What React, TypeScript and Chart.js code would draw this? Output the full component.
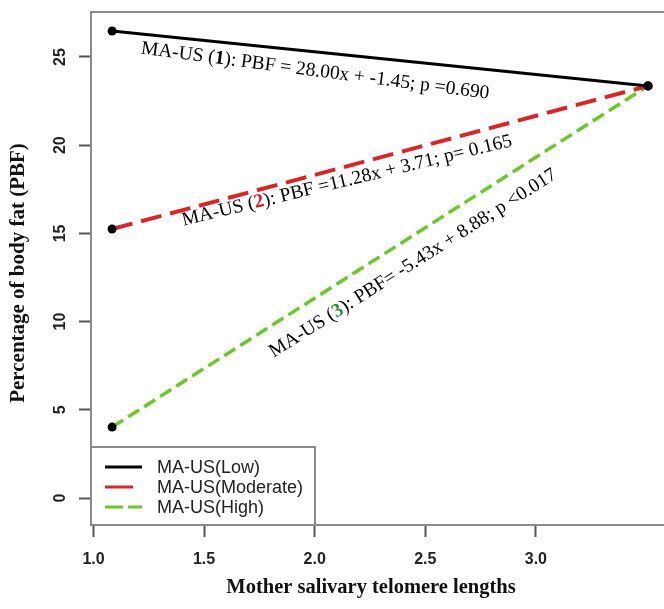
import React, { useEffect, useRef } from "react";
import { Chart, registerables } from "chart.js";
Chart.register(...registerables);

// ---------- data ----------
const seriesLabels = ["MA-US(Low)", "MA-US(Moderate)", "MA-US(High)"];
const xValues = [1.084, 3.507];
const lowValues = [26.47, 23.36];
const moderateValues = [15.25, 23.36];
const highValues = [4.02, 23.36];
const xTicks = [1.0, 1.5, 2.0, 2.5, 3.0];
const yTicks = [0, 5, 10, 15, 20, 25];
const xTitle = "Mother salivary telomere lengths";
const yTitle = "Percentage of body fat (PBF)";

// annotation texts: [before, bold number, after]
const annoTexts = [
  ["MA-US (", "1", "): PBF = 28.00x + -1.45; p =0.690"],
  ["MA-US (", "2", "): PBF =11.28x + 3.71; p= 0.165"],
  ["MA-US (", "3", "): PBF= -5.43x + 8.88; p <0.017"],
];
// anchor (data coords) and angle of each annotation
const annoX = [2.002, 2.146, 2.445];
const annoY = [24.2, 17.98, 13.3];
const annoAngle = [7.4, -13.6, -32.4];
const annoNumColor = ["#000000", "#d01c1c", "#2e8b3e"];

// ---------- styles ----------
const lineColors = ["#000000", "#d82626", "#6cc72c"];
const lineDash = [[], [21, 9], [13, 6]];
const lineWidth = [3, 4, 3.5];
const legendDash = [[], [28, 12], [18, 5]];

function makeData(vals: number[]) {
  return xValues.map((x, i) => ({ x, y: vals[i] }));
}

const overlay = {
  id: "overlay",
  afterDraw(chart: any) {
    const { ctx, chartArea, scales } = chart;
    const xs = scales.x;
    const ys = scales.y;
    ctx.save();

    // plot box (right side cropped off canvas)
    ctx.strokeStyle = "#8a8a8a";
    ctx.lineWidth = 2;
    ctx.strokeRect(
      chartArea.left,
      chartArea.top,
      chartArea.right - chartArea.left + 30,
      chartArea.bottom - chartArea.top
    );

    // y tick labels (rotated)
    ctx.fillStyle = "#222";
    ctx.font = 'bold 16px "Liberation Sans"';
    ctx.textAlign = "center";
    ctx.textBaseline = "middle";
    yTicks.forEach((v) => {
      ctx.save();
      ctx.translate(61, ys.getPixelForValue(v));
      ctx.rotate(-Math.PI / 2);
      ctx.fillText(String(v), 0, 0);
      ctx.restore();
    });

    // axis titles
    ctx.fillStyle = "#111";
    ctx.font = 'bold 20.5px "Liberation Serif"';
    ctx.fillText(xTitle, 371, 588);
    ctx.save();
    ctx.font = 'bold 21px "Liberation Serif"';
    ctx.translate(19, 273);
    ctx.rotate(-Math.PI / 2);
    ctx.fillText(yTitle, 0, 0);
    ctx.restore();

    // annotations
    annoTexts.forEach((parts, i) => {
      const cx = xs.getPixelForValue(annoX[i]);
      const cy = ys.getPixelForValue(annoY[i]);
      ctx.save();
      ctx.translate(cx, cy);
      ctx.rotate((annoAngle[i] * Math.PI) / 180);
      ctx.textAlign = "left";
      ctx.textBaseline = "middle";
      const fonts = [
        '19.5px "Liberation Serif"',
        'bold 19.5px "Liberation Serif"',
        '19.5px "Liberation Serif"',
      ];
      const widths = parts.map((p, k) => {
        ctx.font = fonts[k];
        return ctx.measureText(p).width;
      });
      const total = widths.reduce((a, b) => a + b, 0);
      let x = -total / 2;
      parts.forEach((p, k) => {
        ctx.font = fonts[k];
        ctx.fillStyle = k === 1 ? annoNumColor[i] : "#000";
        ctx.fillText(p, x, 0);
        x += widths[k];
      });
      ctx.restore();
    });

    // legend
    const lx = chartArea.left;
    const lb = chartArea.bottom;
    const lw = 224;
    const lh = 78;
    ctx.fillStyle = "#fff";
    ctx.fillRect(lx, lb - lh, lw, lh);
    ctx.strokeStyle = "#8a8a8a";
    ctx.lineWidth = 2;
    ctx.strokeRect(lx, lb - lh, lw, lh);
    ctx.font = '18px "Liberation Sans"';
    ctx.textAlign = "left";
    ctx.textBaseline = "middle";
    chart.data.datasets.forEach((ds: any, i: number) => {
      const ry = lb - 58 + i * 20;
      ctx.save();
      ctx.strokeStyle = ds.borderColor;
      ctx.lineWidth = 3;
      ctx.setLineDash(legendDash[i]);
      ctx.beginPath();
      ctx.moveTo(lx + 14, ry);
      ctx.lineTo(lx + 51, ry);
      ctx.stroke();
      ctx.restore();
      ctx.fillStyle = "#222";
      ctx.fillText(ds.label, lx + 66, ry + 1);
    });

    ctx.restore();
  },
};

export default function App() {
  const ref = useRef<HTMLCanvasElement>(null);
  useEffect(() => {
    if (!ref.current) return;
    const series = [lowValues, moderateValues, highValues];
    const chart = new Chart(ref.current, {
      type: "scatter",
      data: {
        datasets: series.map((vals, i) => ({
          label: seriesLabels[i],
          data: makeData(vals),
          showLine: true,
          borderColor: lineColors[i],
          borderWidth: lineWidth[i],
          borderDash: lineDash[i],
          pointRadius: 4.5,
          pointBackgroundColor: "#000",
          pointBorderWidth: 0,
          fill: false,
        })),
      },
      options: {
        responsive: false,
        animation: false,
        layout: { padding: { top: 12, right: 0, left: 0, bottom: 0 } },
        plugins: {
          legend: { display: false },
          tooltip: { enabled: false },
        },
        scales: {
          x: {
            type: "linear",
            min: 0.9887,
            max: 3.559,
            afterBuildTicks: (s: any) => {
              s.ticks = xTicks.map((v) => ({ value: v }));
            },
            afterFit: (s: any) => {
              s.height = 84;
            },
            grid: {
              drawOnChartArea: false,
              drawTicks: true,
              tickLength: 12,
              tickWidth: 2,
              tickColor: "#555",
            },
            border: { display: false },
            ticks: {
              font: { family: "Liberation Sans", weight: "bold", size: 16 },
              color: "#222",
              padding: 13,
              maxRotation: 0,
              minRotation: 0,
              autoSkip: false,
              callback: (v: any) => Number(v).toFixed(1),
            },
          },
          y: {
            type: "linear",
            min: -1.53,
            max: 27.55,
            afterBuildTicks: (s: any) => {
              s.ticks = yTicks.map((v) => ({ value: v }));
            },
            afterFit: (s: any) => {
              s.width = 91;
            },
            grid: {
              drawOnChartArea: false,
              drawTicks: true,
              tickLength: 12,
              tickWidth: 2,
              tickColor: "#555",
            },
            border: { display: false },
            ticks: { display: false },
          },
        },
      } as any,
      plugins: [overlay],
    });
    return () => chart.destroy();
  }, []);
  return (
    <div style={{ position: "absolute", left: 0, top: 0, width: 664, height: 609, background: "#fff" }}>
      <canvas ref={ref} width={664} height={609} />
    </div>
  );
}
